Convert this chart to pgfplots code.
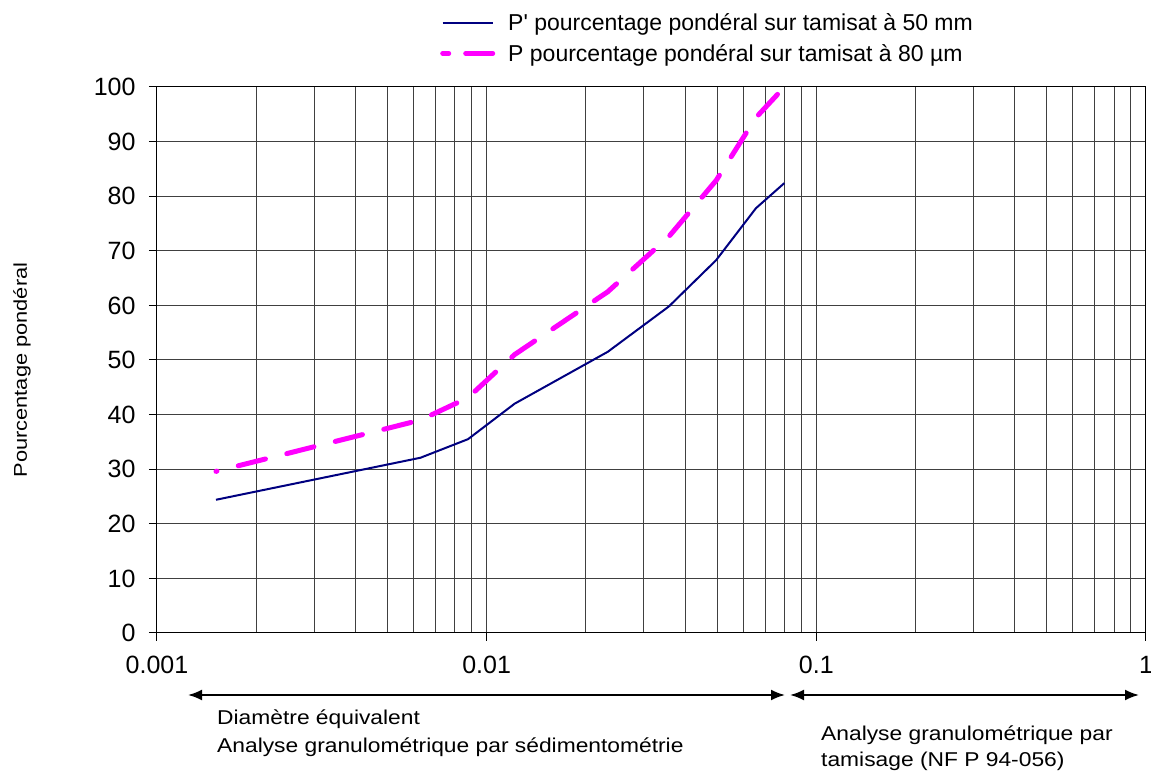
\documentclass[border=0pt]{standalone}
\usepackage{pgfplots}
\pgfplotsset{compat=1.18}
\usepackage{fontspec}
\setmainfont{Liberation Sans}
\newfontfamily\wf[FakeStretch=1.14]{Liberation Sans}
\newfontfamily\yf[FakeStretch=1.18]{Liberation Sans}
\usetikzlibrary{arrows.meta}
\definecolor{navyline}{RGB}{0,0,128}
\definecolor{pinkline}{RGB}{255,0,255}

\pgfplotstableread{
x y
0.00151 24.4
0.0063 32.1
0.00878 35.5
0.01216 42.0
0.0233 51.5
0.0357 59.8
0.0497 68.3
0.0656 77.8
0.0800 82.4
}\bluedata

\pgfplotstableread{
x y
0.00151 29.6
0.0063 39.0
0.00878 43.1
0.01216 51.0
0.0233 62.5
0.0357 72.6
0.0497 82.9
0.0656 94.4
0.0800 100
}\pinkdata

\begin{document}
\begin{tikzpicture}[x=1pt,y=1pt]
\path[use as bounding box] (0,0) rectangle (1151,771);
\begin{axis}[
  at={(157pt,138pt)}, anchor=south west, scale only axis,
  width=989pt, height=546pt,
  xmode=log, xmin=0.001, xmax=1, ymin=0, ymax=100,
  xtick={0.001,0.01,0.1,1}, xticklabels={0.001,0.01,0.1,1},
  minor xtick={0.002,0.003,0.004,0.005,0.006,0.007,0.008,0.009,0.02,0.03,0.04,0.05,0.06,0.07,0.08,0.09,0.2,0.3,0.4,0.5,0.6,0.7,0.8,0.9},
  ytick={0,10,...,100},
  grid=both,
  major grid style={black!75, line width=1pt},
  minor grid style={black!75, line width=1pt},
  axis line style={black, line width=1pt},
  tick align=outside, major tick length=8pt, minor tick length=0pt,
  tick style={black, line width=1pt},
  xtick pos=bottom, ytick pos=left,
  /pgf/number format/assume math mode=true,
  ticklabel style={font=\fontsize{25}{30}\selectfont},
  yticklabel style={xshift=-10pt},
  xticklabel style={yshift=-12pt},
  ylabel={Pourcentage pondéral},
  ylabel style={at={(axis description cs:-0.1365,0.4817)}, anchor=center, font=\yf\fontsize{18.5}{22}\selectfont},
  legend image code/.code={\draw[#1] (0pt,0pt) -- (50pt,0pt);},
  legend style={at={(axis description cs:0.2862,1.139)}, anchor=north west, draw=none, fill=none, inner sep=0pt, row sep=8.5pt, column sep=11pt, font=\fontsize{23}{27}\selectfont},
  legend cell align=left,
]
\addplot[navyline, line width=2pt, no marks] table {\bluedata};
\addlegendentry{P\textquotesingle{} pourcentage pondéral sur tamisat à 50 mm}
\addplot[pinkline, line width=5pt, no marks, line cap=round, dash pattern=on 28pt off 22pt, dash phase=27pt,
  legend image post style={dash pattern=on 6pt off 17pt on 40pt, dash phase=0pt}] table {\pinkdata};
\addlegendentry{P pourcentage pondéral sur tamisat à 80 µm}
\end{axis}
\draw[line width=2pt, {Latex[length=14pt,width=11pt]}-{Latex[length=14pt,width=11pt]}] (188,76) -- (785,76);
\draw[line width=2pt, {Latex[length=14pt,width=11pt]}-{Latex[length=14pt,width=11pt]}] (790,76) -- (1139,76);
\node[anchor=base west, inner sep=0pt, font=\wf\fontsize{20}{26}\selectfont] at (217,46) {Diamètre équivalent};
\node[anchor=base west, inner sep=0pt, font=\wf\fontsize{20}{26}\selectfont] at (217,19) {Analyse granulométrique par sédimentométrie};
\node[anchor=base west, inner sep=0pt, font=\wf\fontsize{20}{26}\selectfont] at (821,30.3) {Analyse granulométrique par};
\node[anchor=base west, inner sep=0pt, font=\wf\fontsize{20}{26}\selectfont] at (821,4.3) {tamisage (NF P 94-056)};
\end{tikzpicture}
\end{document}
